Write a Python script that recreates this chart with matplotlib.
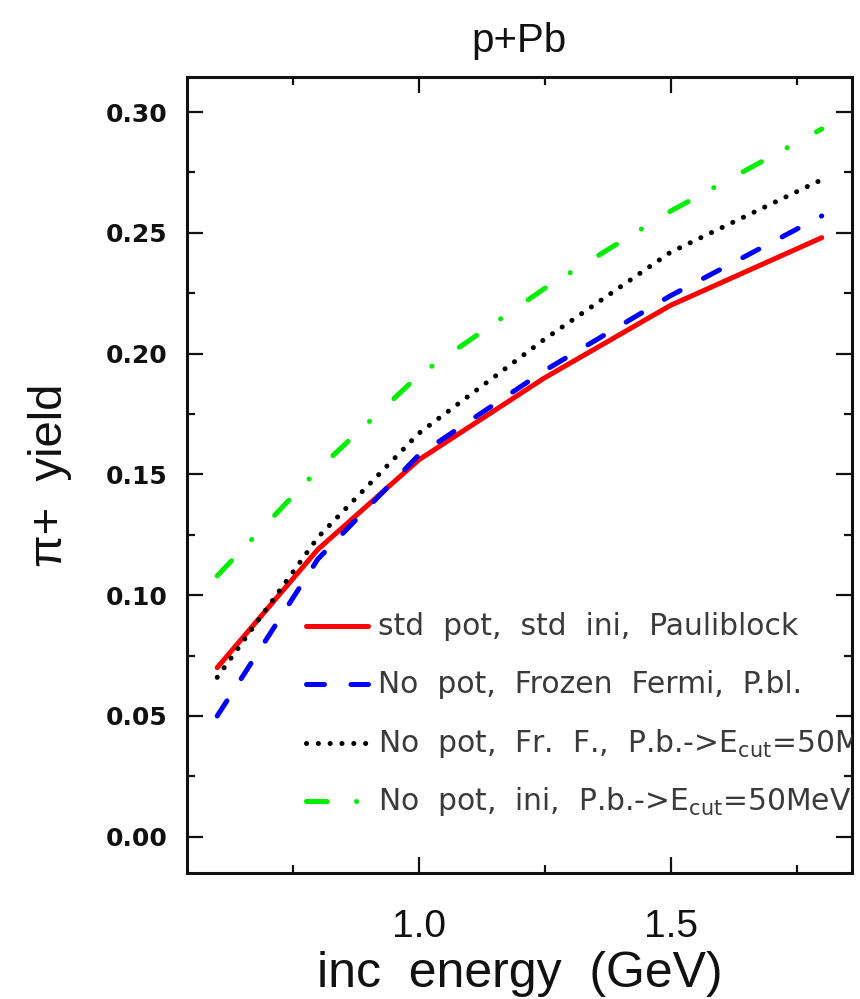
import matplotlib
matplotlib.use("Agg")
import matplotlib.pyplot as plt
from matplotlib.ticker import MultipleLocator, FixedLocator

plt.rcParams['lines.scale_dashes'] = False
plt.rcParams['mathtext.default'] = 'regular'

# incident proton energy (GeV)
energy = [0.6, 0.8, 1.0, 1.25, 1.5, 1.8]

# pi+ yield per event for the four model settings
yield_std = [0.070, 0.119, 0.156, 0.190, 0.220, 0.248]
yield_frozen = [0.050, 0.115, 0.158, 0.193, 0.224, 0.257]
yield_frozen_ecut = [0.066, 0.124, 0.167, 0.206, 0.242, 0.272]
yield_ini_ecut = [0.108, 0.152, 0.191, 0.227, 0.259, 0.293]

labels = [
    "std  pot,  std  ini,  Pauliblock",
    "No  pot,  Frozen  Fermi,  P.bl.",
    "No  pot,  Fr.  F.,  P.b.->E$_{cut}$=50MeV",
    "No  pot,  ini,  P.b.->E$_{cut}$=50MeV",
]

x_major = [1.0, 1.5]
x_minor = [0.75, 1.25, 1.75]

font_main = ['Liberation Sans', 'DejaVu Sans']

fig = plt.figure(figsize=(8.6, 9.99), dpi=100)
ax = fig.add_axes([0.2174, 0.1261, 0.9907 - 0.2174, 0.9229 - 0.1261])

lw = 3.6
styles = [
    dict(color='#ff0000', linestyle='-', solid_capstyle='round'),
    dict(color='#0000ff', dashes=(13, 19), dash_capstyle='round'),
    dict(color='#000000', dashes=(0.1, 8.4), dash_capstyle='round'),
    dict(color='#00ee00', dashes=(15, 21, 0.1, 24), dash_capstyle='round'),
]
series = [yield_std, yield_frozen, yield_frozen_ecut, yield_ini_ecut]

for ys, st in zip(series, styles):
    ax.plot(energy, ys, lw=lw, **st)

# legend drawn by hand so the text is clipped at the frame
row_y = [0.310, 0.237, 0.163, 0.090]
for yr, st, lab in zip(row_y, styles, labels):
    ax.plot([0.179, 0.272], [yr, yr], transform=ax.transAxes, lw=lw,
            clip_on=False, **st)
    ax.text(0.287, yr, lab, transform=ax.transAxes, va='center', ha='left',
            fontsize=21.4, color='#3a3a3a', family=['DejaVu Sans'],
            clip_on=True)

ax.xaxis.set_major_locator(FixedLocator(x_major))
ax.xaxis.set_minor_locator(FixedLocator(x_minor))
ax.yaxis.set_major_locator(MultipleLocator(0.05))
ax.yaxis.set_minor_locator(MultipleLocator(0.025))

ax.tick_params(which='both', direction='in', top=True, right=True,
               width=1.6, color='#111111')
ax.tick_params(which='major', length=11.5)
ax.tick_params(which='minor', length=6)
ax.tick_params(axis='y', pad=14)
ax.tick_params(axis='x', pad=26)

ax.set_xticklabels([f"{v:.1f}" for v in x_major], fontsize=28,
                   family=font_main, color='#111111')
y_ticks = [0.0, 0.05, 0.10, 0.15, 0.20, 0.25, 0.30]
ax.set_yticks(y_ticks)
ax.set_yticklabels([f"{v:.2f}" for v in y_ticks], fontsize=18,
                   fontweight='bold', family=['DejaVu Sans'], color='#111111')
ax.set_xlim(0.54, 1.86)
ax.set_ylim(-0.015, 0.3145)

for sp in ax.spines.values():
    sp.set_linewidth(2.2)
    sp.set_color('#111111')

ax.set_title("p+Pb", fontsize=29, family=font_main, pad=18, color='#111111')
ax.set_xlabel("inc  energy  (GeV)", fontsize=36, family=font_main,
              labelpad=4, color='#111111')
ax.set_ylabel("π+  yield", fontsize=34, family=font_main, labelpad=24,
              color='#111111')

fig.savefig("out.png", dpi=100, facecolor='white')
